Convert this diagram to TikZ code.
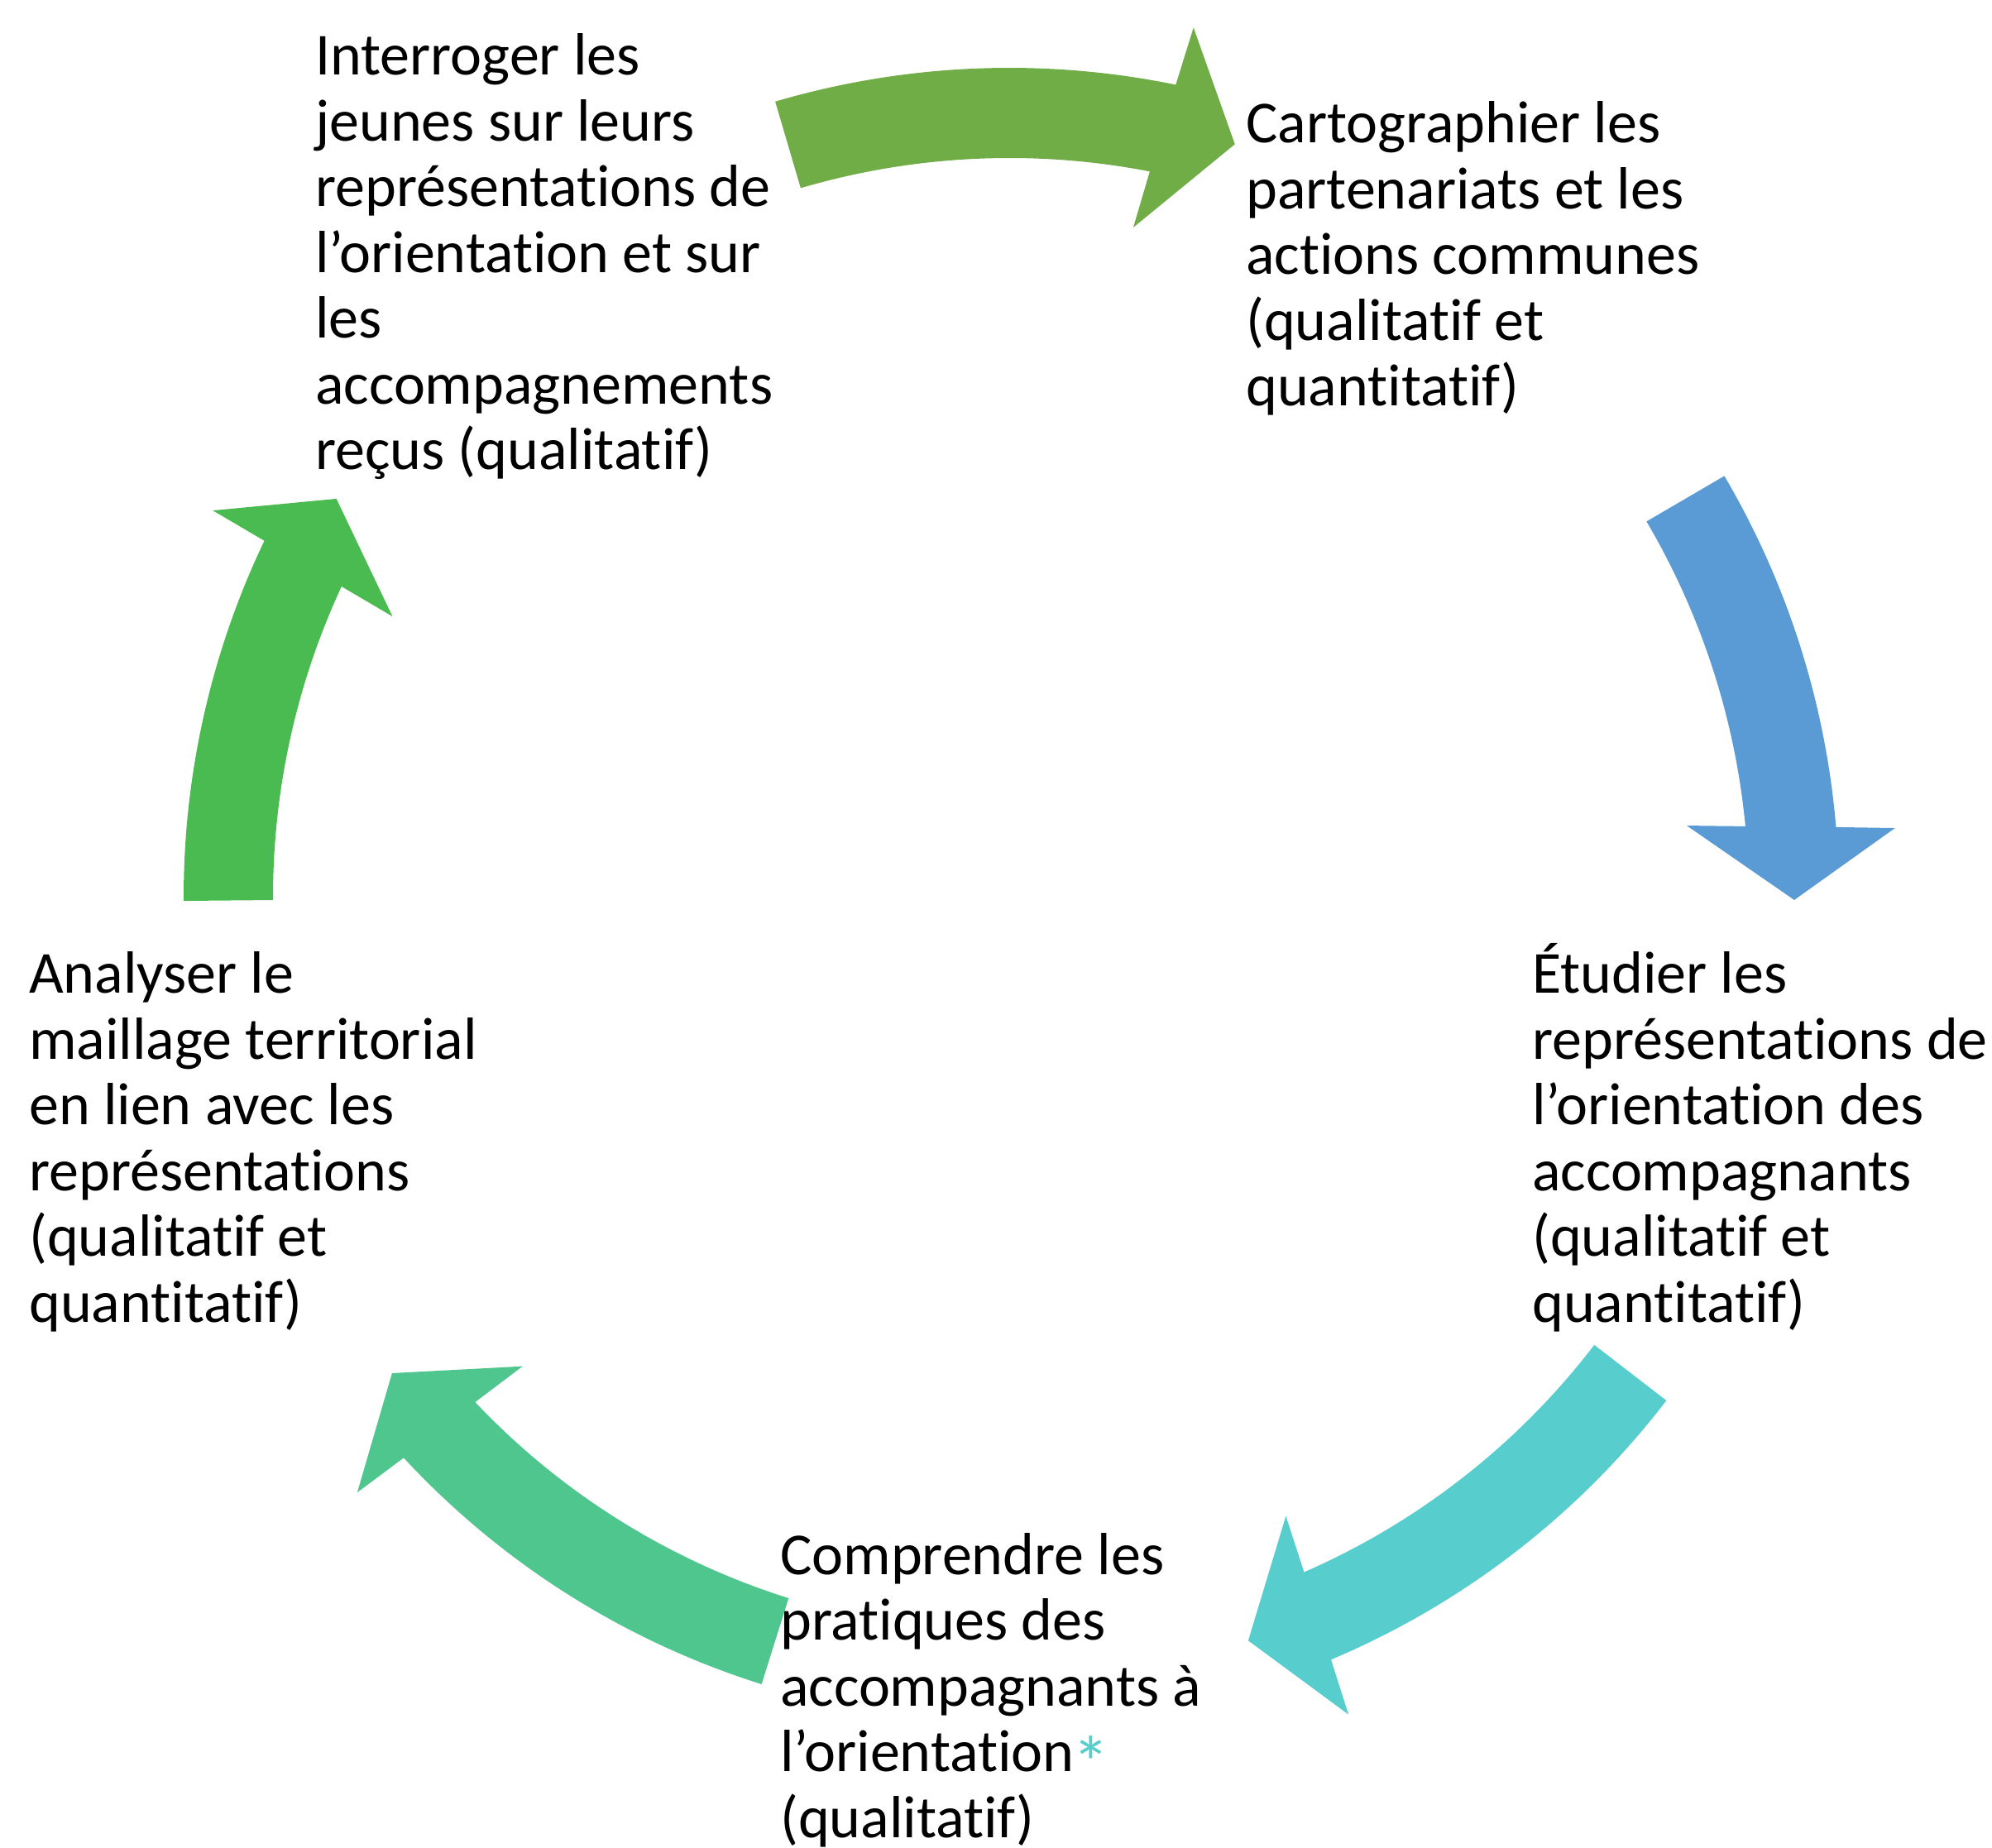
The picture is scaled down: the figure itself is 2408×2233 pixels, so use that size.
\documentclass[tikz,border=0pt]{standalone}
\usepackage{fontspec}
\usepackage{graphicx}
\setmainfont{Carlito}[Ligatures={NoCommon,NoContextual}]
\definecolor{arrA}{HTML}{70AD47}
\definecolor{arrB}{HTML}{5B9BD5}
\definecolor{arrC}{HTML}{57CDCE}
\definecolor{arrD}{HTML}{4FC68E}
\definecolor{arrE}{HTML}{4ABB50}
\tikzset{
  txt/.style={anchor=base west, inner sep=0pt, font=\fontsize{72}{79.5}\selectfont}
}
\begin{document}
\begin{tikzpicture}[x=1pt,y=1pt]
\useasboundingbox (0,0) rectangle (2408,2233);
% text blocks
\node[txt] (t1) at (381,2142) {\vtop{\hbox{Interroger les}\hbox{jeunes sur leurs}\hbox{représentations de}\hbox{l’orientation et sur}\hbox{les}\hbox{accompagnements}\hbox{reçus (qualitatif)}}};
\node[txt] (t2) at (1506,2060) {\vtop{\hbox{Cartographier les}\hbox{partenariats et les}\hbox{actions communes}\hbox{(qualitatif et}\hbox{quantitatif)}}};
\node[txt] (t3) at (1852,1032) {\vtop{\hbox{Étudier les}\hbox{représentations de}\hbox{l’orientation des}\hbox{accompagnants}\hbox{(qualitatif et}\hbox{quantitatif)}}};
\node[txt] (t4) at (943,330) {\vtop{\hbox{Comprendre les}\hbox{pratiques des}\hbox{accompagnants à}\hbox{l’orientation\kern-2pt\textcolor{arrC}{\raisebox{-21pt}{\scalebox{1.25}{*}}}}\hbox{(qualitatif)}}};
\node[txt] (t5) at (35,1032) {\vtop{\hbox{Analyser le}\hbox{maillage territorial}\hbox{en lien avec les}\hbox{représentations}\hbox{(qualitatif et}\hbox{quantitatif)}}};
% circular arrows
\begin{scope}[shift={(1220,1149)}]
\fill[arrA] (106.4:1002) arc[start angle=106.4,end angle=78.41,radius=1002]
  -- (78.03:1074) -- (73.31:949.7) -- (79.5:822.8) -- (79.03:893)
  arc[start angle=79.03,end angle=106.4,radius=893] -- cycle;
\fill[arrB] (30.47:1003) arc[start angle=30.47,end angle=4.81,radius=1003]
  -- (4.43:1074) -- (-0.24:949) -- (5.99:823.5) -- (5.46:894)
  arc[start angle=5.46,end angle=30.49,radius=894] -- cycle;
\fill[arrC] (-37.48:1001) arc[start angle=-37.48,end angle=-67.13,radius=1001]
  -- (-67.47:1070.4) -- (-72.19:944.6) -- (-65.93:820) -- (-66.42:891)
  arc[start angle=-66.42,end angle=-37.46,radius=891] -- cycle;
\fill[arrD] (252.54:998) arc[start angle=252.54,end angle=222.82,radius=998]
  -- (222.42:1067.7) -- (217.67:942.6) -- (223.98:817.5) -- (223.42:889)
  arc[start angle=223.42,end angle=252.54,radius=889] -- cycle;
\fill[arrE] (180.29:998) arc[start angle=180.29,end angle=154.46,radius=998]
  -- (154.13:1070) -- (149.4:945) -- (155.56:819) -- (155.08:890)
  arc[start angle=155.08,end angle=180.26,radius=890] -- cycle;
\end{scope}
\end{tikzpicture}
\end{document}
